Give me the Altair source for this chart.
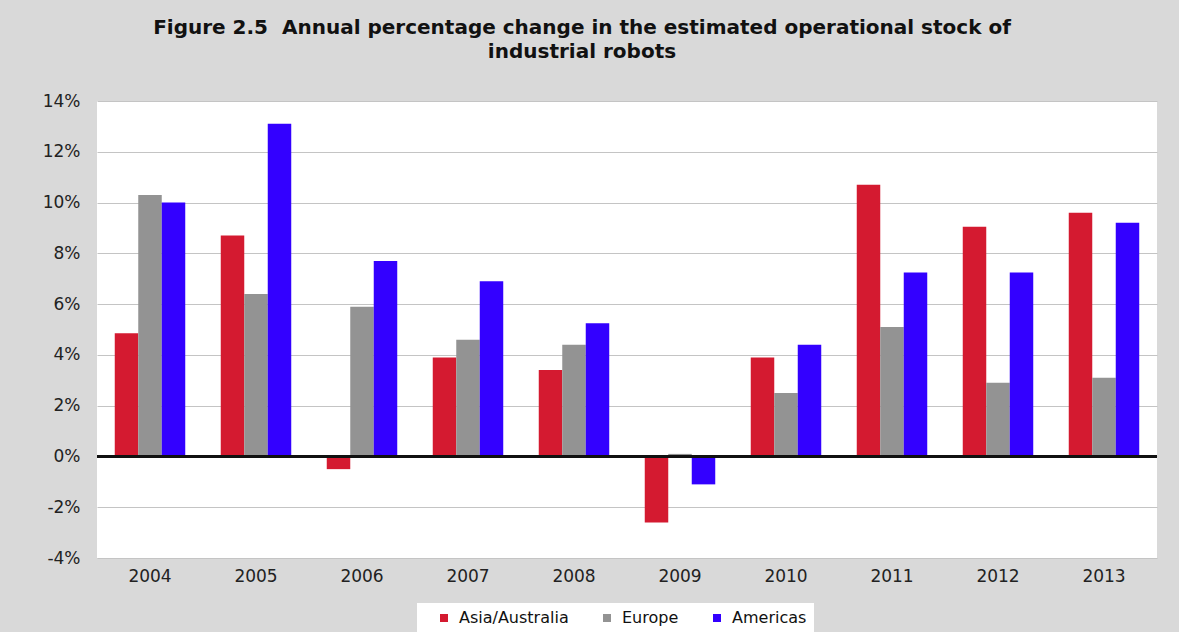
import altair as alt
import pandas as pd

years = ["2004", "2005", "2006", "2007", "2008", "2009", "2010", "2011", "2012", "2013"]
series = ["Asia/Australia", "Europe", "Americas"]
asia = [4.85, 8.7, -0.5, 3.9, 3.4, -2.6, 3.9, 10.7, 9.05, 9.6]
europe = [10.3, 6.4, 5.9, 4.6, 4.4, 0.1, 2.5, 5.1, 2.9, 3.1]
americas = [10.0, 13.1, 7.7, 6.9, 5.25, -1.1, 4.4, 7.25, 7.25, 9.2]
colors = ["#d41a30", "#939393", "#3300ff"]

rows = []
for name, vals in zip(series, [asia, europe, americas]):
    for y, v in zip(years, vals):
        rows.append({"year": y, "series": name, "value": v})
df = pd.DataFrame(rows)

FONT = "DejaVu Sans"

bars = alt.Chart(df).mark_bar().encode(
    x=alt.X("year:N", sort=years, title=None,
            scale=alt.Scale(paddingInner=0.335, paddingOuter=0.1675),
            axis=alt.Axis(labelAngle=0, labelFontSize=17, labelFont=FONT,
                          labelColor="#222222", ticks=False, domain=False,
                          labelPadding=10, grid=False)),
    xOffset=alt.XOffset("series:N", sort=series),
    y=alt.Y("value:Q", title=None,
            scale=alt.Scale(domain=[-4, 14], nice=False, zero=False),
            axis=alt.Axis(values=[-4, -2, 0, 2, 4, 6, 8, 10, 12, 14],
                          labelExpr="datum.value + '%'",
                          labelFontSize=17, labelFont=FONT, labelColor="#222222",
                          ticks=False, domain=False, labelPadding=17,
                          gridColor="#c4c4c4", gridWidth=1.2)),
    color=alt.Color("series:N", sort=series,
                    scale=alt.Scale(domain=series, range=colors),
                    legend=alt.Legend(title=None, orient="none", legendX=320, legendY=502,
                                      direction="horizontal", fillColor="white",
                                      padding=7, symbolType="square", symbolSize=64,
                                      symbolStrokeWidth=0, symbolOffset=12,
                                      labelFontSize=16, labelFont=FONT,
                                      labelColor="#111111", columnPadding=18,
                                      labelOffset=7)),
)

zero = alt.Chart(df).mark_rule(color="#111111", strokeWidth=1.6).encode(y=alt.datum(0))

chart = alt.layer(bars, zero).properties(
    width=1060,
    height=457,
    background="#d9d9d9",
    padding={"left": 97, "top": 101, "right": 22, "bottom": 74},
    autosize=alt.AutoSizeParams(type="none"),
    title=alt.TitleParams(
        text=["Figure 2.5\u00a0\u00a0Annual percentage change in the estimated operational stock of",
              "industrial robots"],
        font="DejaVu Sans", fontSize=20, fontWeight="bold", color="#111111",
        anchor="middle", frame="group", dx=-45, offset=30, lineHeight=24),
).configure_view(fill="white", stroke=None)

chart.save("out.html", embed_options={"renderer": "svg", "actions": False})
